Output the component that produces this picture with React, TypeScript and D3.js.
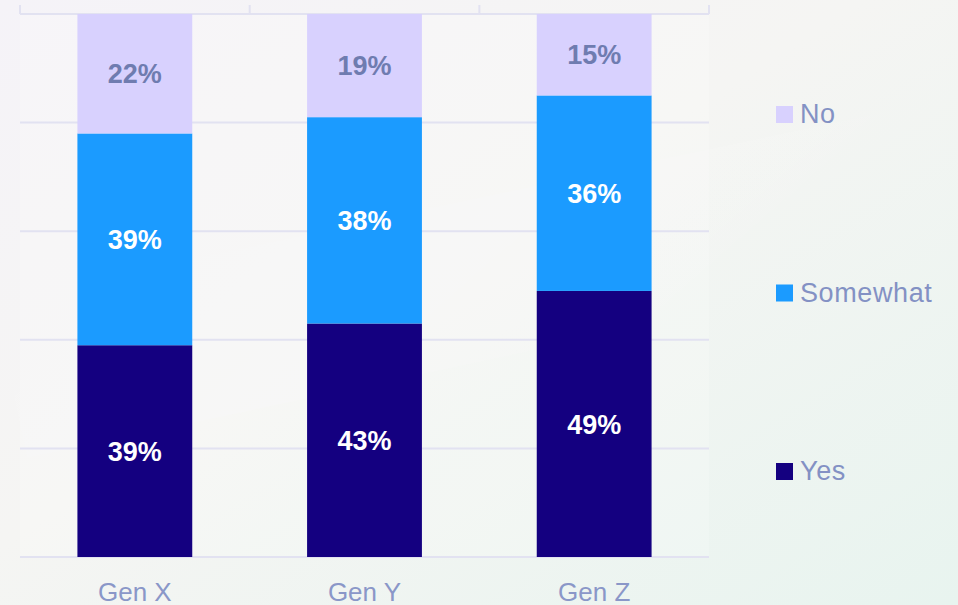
import React from "react";
import * as d3 from "d3";

// data
const categories = ["Gen X", "Gen Y", "Gen Z"];
const yesValues = [39, 43, 49];
const somewhatValues = [39, 38, 36];
const noValues = [22, 19, 15];
const seriesKeys = ["Yes", "Somewhat", "No"];
const gridTicks = [0, 20, 40, 60, 80, 100];

const W = 958;
const H = 605;

const colors: Record<string, string> = {
  Yes: "#140080",
  Somewhat: "#1b9bff",
  No: "#d8d1fe",
};
const labelColors: Record<string, string> = {
  Yes: "#ffffff",
  Somewhat: "#ffffff",
  No: "#6f7cb0",
};

export default function App() {
  const rows = categories.map((c, i) => ({
    cat: c,
    Yes: yesValues[i],
    Somewhat: somewhatValues[i],
    No: noValues[i],
  }));

  const x = d3
    .scaleBand<string>()
    .domain(categories)
    .range([20, 709])
    .paddingInner(0.5)
    .paddingOuter(0.25);

  const y = d3.scaleLinear().domain([0, 100]).range([557, 14]);

  const stacked = d3.stack<any>().keys(seriesKeys)(rows);

  // legend: No on top, Yes at bottom
  const legendY = d3
    .scalePoint<string>()
    .domain(["No", "Somewhat", "Yes"])
    .range([114, 471]);

  const step = x.step();
  const bounds = d3.range(categories.length + 1).map((i) => 20 + i * step);

  return (
    <div style={{ position: "fixed", left: 0, top: 0, width: W, height: H }}>
      <svg width={W} height={H} style={{ display: "block", fontFamily: "'Liberation Sans', Arial, sans-serif" }}>
        <defs>
          <linearGradient id="bg" x1="0" y1="0" x2="1" y2="1">
            <stop offset="0%" stopColor="#f5f3f8" />
            <stop offset="45%" stopColor="#f5f5f3" />
            <stop offset="100%" stopColor="#e8f4ef" />
          </linearGradient>
          <linearGradient id="streak" x1="0" y1="0" x2="1" y2="0.3">
            <stop offset="0%" stopColor="#ffffff" stopOpacity="0" />
            <stop offset="50%" stopColor="#ffffff" stopOpacity="0.15" />
            <stop offset="100%" stopColor="#ffffff" stopOpacity="0" />
          </linearGradient>
        </defs>
        <rect width={W} height={H} fill="url(#bg)" />
        <rect x={0} y={200} width={W} height={160} fill="url(#streak)" transform="rotate(-12 479 280)" />
        <rect x={20} y={14} width={689} height={543} fill="#ffffff" opacity={0.2} />

        {/* gridlines */}
        {gridTicks.map((t) => (
          <line key={t} x1={20} x2={709} y1={y(t)} y2={y(t)} stroke="#e2e2f1" strokeWidth={2} />
        ))}
        {/* top tick marks at category boundaries */}
        {bounds.map((b, i) => (
          <line key={i} x1={b} x2={b} y1={5} y2={14} stroke="#e2e2f1" strokeWidth={2} />
        ))}

        {/* bars */}
        {stacked.map((s) => (
          <g key={s.key}>
            {s.map((d, i) => {
              const x0 = x(categories[i])!;
              const top = y(d[1]);
              const bot = y(d[0]);
              const v = d[1] - d[0];
              return (
                <g key={i}>
                  <rect x={x0} y={top} width={x.bandwidth()} height={bot - top} fill={colors[s.key]} />
                  <text
                    x={x0 + x.bandwidth() / 2}
                    y={(top + bot) / 2}
                    dy="0.36em"
                    textAnchor="middle"
                    fontSize={27}
                    fontWeight="bold"
                    fill={labelColors[s.key]}
                  >
                    {v}%
                  </text>
                </g>
              );
            })}
          </g>
        ))}

        {/* category labels */}
        {categories.map((c) => (
          <text
            key={c}
            x={x(c)! + x.bandwidth() / 2}
            y={601}
            textAnchor="middle"
            fontSize={26}
            fill="#8a97c8"
          >
            {c}
          </text>
        ))}

        {/* legend */}
        {["No", "Somewhat", "Yes"].map((k) => (
          <g key={k} transform={`translate(776, ${legendY(k)})`}>
            <rect x={0} y={-8} width={17} height={17} fill={colors[k]} />
            <text x={24} y={9} fontSize={27} fill="#8391c4" letterSpacing={0.6}>
              {k}
            </text>
          </g>
        ))}
      </svg>
    </div>
  );
}
